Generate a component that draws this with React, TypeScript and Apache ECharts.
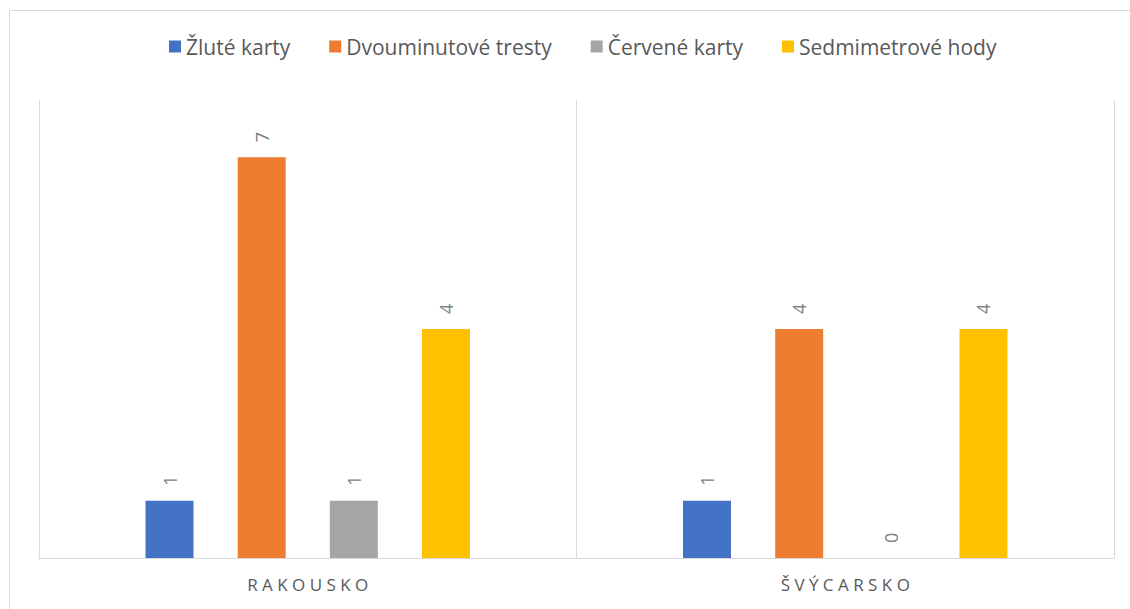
import React, { useEffect, useRef } from "react";
import * as echarts from "echarts";

const categories = ["RAKOUSKO", "ŠVÝCARSKO"];
const seriesNames = ["Žluté karty", "Dvouminutové tresty", "Červené karty", "Sedmimetrové hody"];
const zluteKarty = [1, 1];
const dvouminutoveTresty = [7, 4];
const cerveneKarty = [1, 0];
const sedmimetroveHody = [4, 4];
const seriesColors = ["#4472C4", "#ED7D31", "#A5A5A5", "#FFC000"];

const FONT = "'Open Sans', 'Noto Sans', sans-serif";

export default function App() {
  const ref = useRef<HTMLDivElement>(null);
  useEffect(() => {
    if (!ref.current) return;
    const chart = echarts.init(ref.current, undefined, { renderer: "svg" });
    const values = [zluteKarty, dvouminutoveTresty, cerveneKarty, sedmimetroveHody];
    chart.setOption({
      animation: false,
      backgroundColor: "#ffffff",
      textStyle: { fontFamily: FONT },
      graphic: [
        {
          type: "rect",
          shape: { x: 9.5, y: 10.5, width: 1300, height: 800 },
          style: { fill: "none", stroke: "#d9d9d9", lineWidth: 1 },
          silent: true,
          z: -1,
        },
      ],
      legend: {
        top: 31,
        left: 164,
        itemWidth: 12,
        itemHeight: 12,
        itemGap: 39,
        icon: "rect",
        textStyle: { fontSize: 21, color: "#595959", fontFamily: FONT },
        data: seriesNames,
      },
      grid: { left: 39, right: 16, top: 100, bottom: 51, containLabel: false },
      xAxis: {
        type: "category",
        data: categories,
        axisLine: { show: true, lineStyle: { color: "#d9d9d9", width: 1 } },
        axisTick: { show: false },
        splitLine: { show: true, lineStyle: { color: "#d9d9d9", width: 1 } },
        axisLabel: {
          color: "#595959",
          fontSize: 17,
          margin: 18,
          fontFamily: FONT,
          formatter: (v: string) => v.split("").join(" "),
        },
      },
      yAxis: {
        type: "value",
        min: 0,
        max: 8,
        interval: 1,
        show: false,
        splitLine: { show: false },
      },
      series: seriesNames.map((name, i) => ({
        name,
        type: "bar",
        data: values[i],
        barWidth: 48,
        barGap: "92%",
        itemStyle: { color: seriesColors[i] },
        label: {
          show: true,
          position: "top",
          rotate: 90,
          align: "left",
          verticalAlign: "middle",
          distance: 15,
          color: "#7f7f7f",
          fontSize: 18,
          fontFamily: FONT,
        },
      })),
    });
    return () => chart.dispose();
  }, []);
  return <div ref={ref} style={{ width: 1130, height: 609, position: "absolute", left: 0, top: 0 }} />;
}
